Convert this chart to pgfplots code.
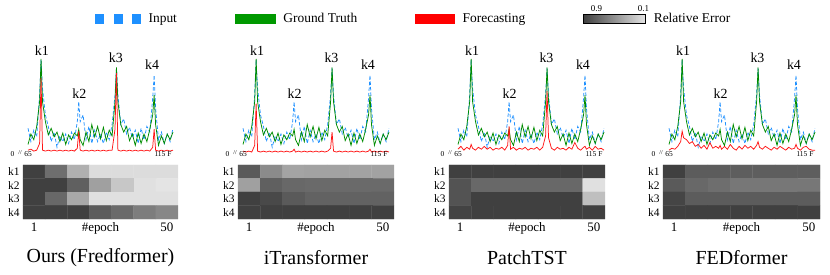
\documentclass[border=0pt]{standalone}
\usepackage{fontspec}
\setmainfont{Liberation Serif}
\usepackage{pgfplots}
\usepackage{pgfplotstable}
\pgfplotsset{compat=1.18}
\definecolor{inblue}{RGB}{30,144,255}
\definecolor{gtgreen}{RGB}{0,140,0}
\definecolor{lgreen}{RGB}{0,153,0}
\definecolor{fred}{RGB}{255,20,20}
\definecolor{hdark}{RGB}{64,64,64}
\definecolor{hlight}{RGB}{228,228,228}

\pgfplotstableread{
x in gt f1 f2 f3 f4
65 26 9 3 2 4 3
66 12 20 4 1 7 5
67 24 14 2 2 3 4
68 17 28 3 1 6 7
69 61 54 10 8 4 12
69.5 98 99 79 52 9 23
70 68 54 3 2 5 16
71 40 33 2 1 3 14
72 28 19 3 2 6 10
73 12 26 2 1 4 12
74 22 17 3 2 7 7
75 6 22 2 1 4 9
76 18 12 3 2 6 5
77 12 21 2 1 3 8
78 20 9 3 2 5 4
79 10 19 2 1 4 11
80 22 14 3 2 6 5
81 14 21 2 1 3 7
82 33 18 5 2 8 5
82.5 54 25 23 4 28 8
83 33 14 3 1 4 4
84 40 8 2 2 6 7
85 14 22 3 1 3 4
86 28 12 2 2 5 9
87 10 30 3 1 4 5
88 24 17 2 2 6 3
89 12 28 3 1 3 7
90 20 15 2 2 5 4
91 10 27 3 1 4 8
92 22 13 2 2 6 5
93 14 24 3 1 3 7
94 30 18 3 2 6 4
95 61 54 25 5 18 8
95.5 89 90 84 22 65 12
96 61 54 3 2 16 6
97 30 30 2 1 5 4
98 36 22 3 2 3 7
99 20 28 2 1 6 5
100 27 13 3 2 4 3
101 16 20 2 1 5 6
102 24 8 3 2 3 4
103 10 21 2 1 6 7
104 26 10 3 2 4 5
105 14 20 2 1 11 3
106 28 12 3 2 5 6
107 22 25 2 1 3 4
108 58 40 6 2 6 5
108.5 82 61 25 4 7 9
109 47 30 3 1 4 5
110 14 8 2 2 6 3
111 22 18 3 1 3 6
112 10 10 2 2 7 7
113 20 20 3 1 4 4
114 12 14 2 2 5 3
115 26 22 3 1 3 3
}\spec

\pgfplotstableread{
x y e
1 1 0.90
2 1 0.67
3 1 0.35
4 1 0.14
5 1 0.14
6 1 0.14
7 1 0.14
1 2 0.90
2 2 0.90
3 2 0.74
4 2 0.43
5 2 0.24
6 2 0.12
7 2 0.10
1 3 0.90
2 3 0.70
3 3 0.39
4 3 0.12
5 3 0.12
6 3 0.12
7 3 0.12
1 4 0.90
2 4 0.90
3 4 0.90
4 4 0.76
5 4 0.69
6 4 0.60
7 4 0.55
}\hA

\pgfplotstableread{
x y e
1 1 0.77
2 1 0.53
3 1 0.41
4 1 0.42
5 1 0.42
6 1 0.42
7 1 0.42
1 2 0.43
2 2 0.74
3 2 0.70
4 2 0.69
5 2 0.69
6 2 0.69
7 2 0.69
1 3 0.90
2 3 0.85
3 3 0.77
4 3 0.73
5 3 0.73
6 3 0.73
7 3 0.73
1 4 0.90
2 4 0.90
3 4 0.90
4 4 0.90
5 4 0.90
6 4 0.90
7 4 0.90
}\hB

\pgfplotstableread{
x y e
1 1 0.90
2 1 0.90
3 1 0.90
4 1 0.90
5 1 0.90
6 1 0.90
7 1 0.90
1 2 0.80
2 2 0.70
3 2 0.70
4 2 0.70
5 2 0.70
6 2 0.70
7 2 0.12
1 3 0.80
2 3 0.90
3 3 0.90
4 3 0.90
5 3 0.90
6 3 0.90
7 3 0.28
1 4 0.88
2 4 0.90
3 4 0.90
4 4 0.90
5 4 0.90
6 4 0.90
7 4 0.90
}\hC

\pgfplotstableread{
x y e
1 1 0.90
2 1 0.76
3 1 0.76
4 1 0.75
5 1 0.75
6 1 0.75
7 1 0.75
1 2 0.77
2 2 0.70
3 2 0.67
4 2 0.63
5 2 0.63
6 2 0.63
7 2 0.63
1 3 0.87
2 3 0.76
3 3 0.76
4 3 0.76
5 3 0.76
6 3 0.76
7 3 0.76
1 4 0.90
2 4 0.90
3 4 0.90
4 4 0.90
5 4 0.90
6 4 0.90
7 4 0.90
}\hD

\pgfplotsset{
  lineaxis/.style={scale only axis, height=95bp, xmin=65, xmax=115, ymin=0, ymax=100,
    axis line style={draw=none}, xtick=\empty, ytick=\empty, clip=false, anchor=south west},
  heataxis/.style={scale only axis, height=54bp, xmin=0.5, xmax=7.5, ymin=0.5, ymax=4.5,
    y dir=reverse, enlargelimits=false, axis line style={draw=none}, major tick length=0pt,
    tick style={draw=none},
    xtick={1,7}, xticklabels={1,50}, ytick={1,2,3,4}, yticklabels={k1,k2,k3,k4},
    colormap={relerr}{rgb255(0cm)=(228,228,228); rgb255(1cm)=(64,64,64)},
    point meta min=0.1, point meta max=0.9, anchor=south west, clip=false,
    xticklabel style={font=\fontsize{13}{13}\selectfont, anchor=base, yshift=-12.5bp},
    yticklabel style={font=\fontsize{11.5}{12}\selectfont}},
}
\newcommand\lineplots[1]{%
  \addplot[inblue, line width=0.75pt, dash pattern=on 3.5bp off 2bp] table[x=x,y=in]{\spec};
  \addplot[gtgreen, line width=0.75pt] table[x=x,y=gt]{\spec};
  \addplot[fred, line width=0.75pt] table[x=x,y=#1]{\spec};
  \node[font=\fontsize{14}{14}\selectfont] at (axis cs:69.8,108) {k1};
  \node[font=\fontsize{14}{14}\selectfont] at (axis cs:82.7,62) {k2};
  \node[font=\fontsize{14}{14}\selectfont] at (axis cs:95.3,100) {k3};
  \node[font=\fontsize{14}{14}\selectfont] at (axis cs:107.8,93) {k4};
  \node[font=\fontsize{7.5}{7.5}\selectfont] at (axis cs:65,-1.5) {65};
  \node[font=\fontsize{7.5}{7.5}\selectfont, xshift=-15.5bp] at (axis cs:65,-1.5) {0};
  \node[font=\fontsize{6}{6}\selectfont, xshift=-8bp, yshift=1.5bp] at (axis cs:65,-1.5) {//};
  \node[font=\fontsize{7.5}{7.5}\selectfont, anchor=east, xshift=2bp] at (axis cs:115,-1.5) {115 F};
}
\newcommand\heatplot[2]{%
  \addplot[matrix plot*, mesh/cols=7, point meta=explicit] table[x=x,y=y,meta=e]{#1};
  \node[font=\fontsize{13}{13}\selectfont, anchor=base, yshift=-12.5bp] at (axis description cs:0.5,0) {\#epoch};
  \node[font=\fontsize{20}{20}\selectfont, yshift=-39bp] at (axis description cs:0.5,0) {#2};
}

\begin{document}
\begin{tikzpicture}
\path[use as bounding box] (0bp,0bp) rectangle (830bp,275bp);

% Panel 1
\begin{axis}[lineaxis, width=145bp, at={(28bp,122bp)},
  legend columns=4, legend cell align=left,
  legend entries={Input, Ground Truth, Forecasting, Relative Error},
  legend style={at={(0.462,1.41)}, anchor=west, draw=none, fill=none, inner sep=0pt,
    font=\fontsize{13.5}{14}\selectfont, nodes={inner sep=0pt},
    /tikz/every odd column/.append style={column sep=8bp},
    /tikz/every even column/.append style={column sep=58bp}}]
  \addlegendimage{legend image code/.code={\foreach \i in {0,1,2} {\fill[inblue] (\i*18.5bp,-4.5bp) rectangle ++(8bp,9bp);}}}
  \addlegendimage{legend image code/.code={\fill[lgreen] (0bp,-4.5bp) rectangle (40bp,4.5bp);}}
  \addlegendimage{legend image code/.code={\fill[red] (0bp,-4.5bp) rectangle (39bp,4.5bp);}}
  \addlegendimage{legend image code/.code={\shade[left color=hdark, right color=hlight] (0bp,-4.5bp) rectangle (62bp,4.5bp);
     \node[overlay, font=\fontsize{9}{9}\selectfont] at (7bp,10bp) {0.9};
     \node[overlay, font=\fontsize{9}{9}\selectfont] at (54bp,10bp) {0.1};}}
  \lineplots{f1}
\end{axis}
\begin{axis}[heataxis, width=155bp, at={(23bp,56bp)}]
  \heatplot{\hA}{Ours (Fredformer)}
\end{axis}

% Panel 2
\begin{axis}[lineaxis, width=146bp, at={(243bp,122bp)}]
  \lineplots{f2}
\end{axis}
\begin{axis}[heataxis, width=156bp, at={(238bp,56bp)}]
  \heatplot{\hB}{iTransformer}
\end{axis}

% Panel 3
\begin{axis}[lineaxis, width=146bp, at={(458bp,122bp)}]
  \lineplots{f3}
\end{axis}
\begin{axis}[heataxis, width=156bp, at={(449bp,56bp)}]
  \heatplot{\hC}{PatchTST}
\end{axis}

% Panel 4
\begin{axis}[lineaxis, width=146bp, at={(669bp,122bp)}]
  \lineplots{f4}
\end{axis}
\begin{axis}[heataxis, width=157bp, at={(663bp,56bp)}]
  \heatplot{\hD}{FEDformer}
\end{axis}
\end{tikzpicture}
\end{document}
